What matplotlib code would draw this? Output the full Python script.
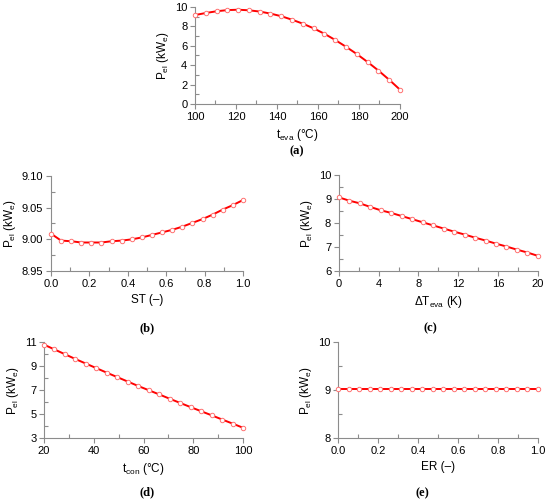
import matplotlib
matplotlib.use("Agg")
import matplotlib.pyplot as plt
import numpy as np
from matplotlib.ticker import FormatStrFormatter

plt.rcParams['font.family'] = ['Liberation Sans', 'DejaVu Sans']
plt.rcParams['mathtext.fontset'] = 'custom'
plt.rcParams['mathtext.rm'] = 'Liberation Sans'

# (a) evaporation temperature
t_eva = np.linspace(100, 200, 20)
p_a = [9.17, 9.38, 9.56, 9.68, 9.72, 9.66, 9.53, 9.32, 9.05, 8.69,
       8.28, 7.80, 7.24, 6.60, 5.90, 5.15, 4.33, 3.45, 2.50, 1.48]

# (b) superheating term
st = np.linspace(0, 1, 20)
p_b = [9.009, 8.998, 8.997, 8.995, 8.995, 8.995, 8.997, 8.998, 9.000, 9.003,
       9.007, 9.011, 9.015, 9.020, 9.026, 9.032, 9.039, 9.047, 9.054, 9.062]

# (c) evaporator pinch
dt_eva = np.linspace(0, 20, 20)
p_c = [9.07, 8.93, 8.82, 8.67, 8.53, 8.42, 8.29, 8.16, 8.03, 7.90,
       7.77, 7.64, 7.52, 7.39, 7.27, 7.14, 7.02, 6.89, 6.77, 6.63]

# (d) condensation temperature
t_con = np.linspace(20, 100, 20)
p_d = [10.78, 10.38, 9.98, 9.58, 9.20, 8.82, 8.44, 8.07, 7.70, 7.33,
       6.98, 6.63, 6.27, 5.92, 5.57, 5.23, 4.89, 4.54, 4.20, 3.85]

# (e) ER
er = np.linspace(0, 1, 20)
p_e = [9.03] * 20

ylab = r'P$_\mathregular{el}$ (kW$_\mathregular{e}$)'
gray = '#8c8c8c'

panels = [
    # rect, x, y, xlim, ylim, xstep, ystep, xlabel, caption, cap pos, yfmt
    ([0.3545, 0.792, 0.3727, 0.194], t_eva, p_a, (100, 200), (0, 10), 20, 2,
     r't$_\mathregular{eva}$ (°C)', '(a)', (0.54, 0.698), '%d'),
    ([0.0927, 0.458, 0.349, 0.19], st, p_b, (0, 1), (8.95, 9.10), 0.2, 0.05,
     'ST (–)', '(b)', (0.267, 0.344), '%.2f'),
    ([0.616, 0.458, 0.362, 0.192], dt_eva, p_c, (0, 20), (6, 10), 4, 1,
     r'ΔT$_\mathregular{eva}$ (K)', '(c)', (0.782, 0.344), '%d'),
    ([0.08, 0.124, 0.362, 0.192], t_con, p_d, (20, 100), (3, 11), 20, 2,
     r't$_\mathregular{con}$ (°C)', '(d)', (0.267, 0.016), '%d'),
    ([0.6145, 0.124, 0.3636, 0.192], er, p_e, (0, 1), (8, 10), 0.2, 1,
     'ER (–)', '(e)', (0.768, 0.014), '%d'),
]

fig = plt.figure(figsize=(5.5, 5.0), dpi=100)

for rect, x, y, xl, yl, xs, ys, xlabel, cap, cpos, yfmt in panels:
    ax = fig.add_axes(rect)
    ax.plot(x, y, color='red', lw=1.4, marker='o', ms=3.2, mfc='white',
            mec='#ff7070', mew=0.7, clip_on=False, zorder=3)
    ax.set_xlim(*xl)
    ax.set_ylim(*yl)
    ax.set_xticks(np.arange(xl[0], xl[1] + xs / 10, xs))
    ax.set_xticks(np.arange(xl[0] + xs / 2, xl[1], xs), minor=True)
    ax.set_yticks(np.arange(yl[0], yl[1] + ys / 10, ys))
    ax.set_yticks(np.arange(yl[0] + ys / 2, yl[1], ys), minor=True)
    ax.yaxis.set_major_formatter(FormatStrFormatter(yfmt))
    ax.xaxis.set_major_formatter(FormatStrFormatter('%.1f' if xs < 1 else '%d'))
    for s in ['top', 'right']:
        ax.spines[s].set_visible(False)
    for s in ['left', 'bottom']:
        ax.spines[s].set_color(gray)
        ax.spines[s].set_linewidth(0.8)
    ax.tick_params(which='major', direction='out', length=3.5, width=0.8,
                   color=gray, labelsize=8, pad=2)
    ax.tick_params(which='minor', direction='in', length=3, width=0.8, color=gray)
    ax.set_xlabel(xlabel, fontsize=8.5, labelpad=4)
    ax.set_ylabel(ylab, fontsize=8.5, labelpad=2.5)
    fig.text(cpos[0], cpos[1], cap, family=['Liberation Serif', 'DejaVu Serif'],
             fontweight='bold', fontsize=9, ha='center', va='center')

fig.savefig('out.png', dpi=100)
